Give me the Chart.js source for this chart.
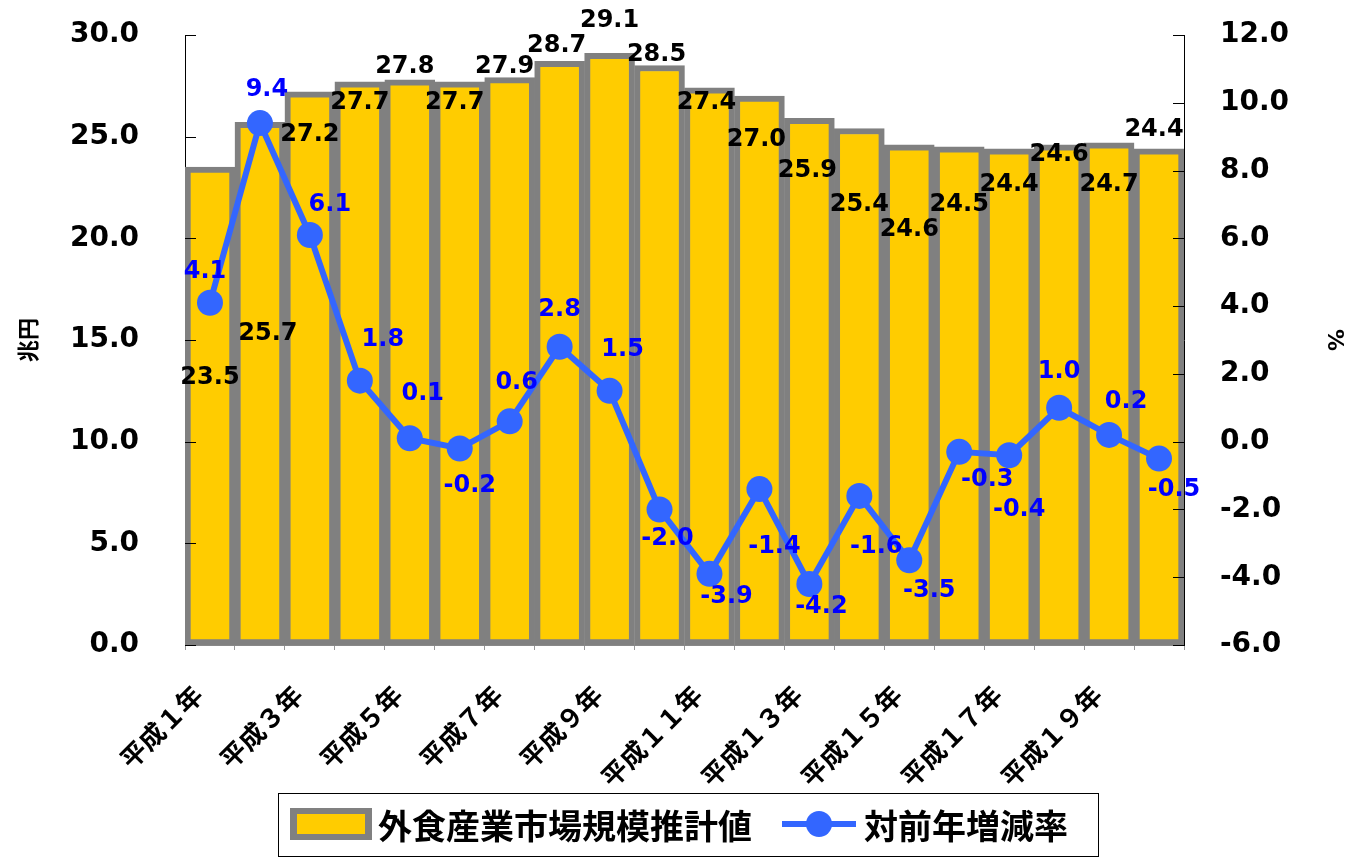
<!DOCTYPE html>
<html>
<head>
<meta charset="utf-8">
<script src="https://cdn.jsdelivr.net/npm/chart.js@4.4.0/dist/chart.umd.min.js"></script>
<style>
html, body { margin: 0; padding: 0; background: #fff; }
</style>
</head>
<body>
<canvas id="c" width="1351" height="858"></canvas>
<script>
// data
const years = ['平成１年', '平成２年', '平成３年', '平成４年', '平成５年', '平成６年', '平成７年', '平成８年', '平成９年', '平成１０年',
    '平成１１年', '平成１２年', '平成１３年', '平成１４年', '平成１５年', '平成１６年', '平成１７年', '平成１８年', '平成１９年', '平成２０年'];
const marketSize = [23.5, 25.7, 27.2, 27.7, 27.8, 27.7, 27.9, 28.7, 29.1, 28.5, 27.4, 27.0, 25.9, 25.4, 24.6, 24.5, 24.4, 24.6, 24.7, 24.4];
const growthRate = [4.1, 9.4, 6.1, 1.8, 0.1, -0.2, 0.6, 2.8, 1.5, -2.0, -3.9, -1.4, -4.2, -1.6, -3.5, -0.3, -0.4, 1.0, 0.2, -0.5];

// label offsets (px) from each mark, to copy the original's hand placed labels
const barLabelOffset = [[0, 211], [8, 211], [0, 43], [0, 21], [-5, -13], [-5, 21], [-5, -11], [-3, -16], [0, -33], [-3, -11],
    [-3, 15], [-3, 44], [-2, 52], [0, 76], [0, 85], [0, 58], [0, 36], [0, 10], [0, 42], [-5, -19]];
const lineLabelOffset = [[-5, -31], [7, -33], [20, -30], [23, -41], [13, -45], [10, 37], [7, -39], [0, -37], [13, -41], [8, 29],
    [17, 23], [15, 58], [12, 23], [17, 51], [20, 30], [28, 28], [10, 55], [0, -36], [17, -33], [15, 31]];

const numFont = 'DejaVu Sans';
const jpFont = '"Noto Sans CJK JP"';
const BAR_FILL = '#FFCC00';
const BAR_EDGE = '#808080';
const LINE_COL = '#3366FF';

// data labels
const labelPlugin = {
    id: 'valueLabels',
    afterDatasetsDraw(chart) {
        const ctx = chart.ctx;
        ctx.save();
        ctx.font = 'bold 24px ' + numFont;
        ctx.textAlign = 'center';
        ctx.textBaseline = 'middle';
        chart.getDatasetMeta(1).data.forEach(function (el, i) {
            ctx.fillStyle = '#000';
            ctx.fillText(marketSize[i].toFixed(1), el.x + barLabelOffset[i][0], el.y + barLabelOffset[i][1]);
        });
        chart.getDatasetMeta(0).data.forEach(function (el, i) {
            ctx.fillStyle = '#0000FF';
            ctx.fillText(growthRate[i].toFixed(1), el.x + lineLabelOffset[i][0], el.y + lineLabelOffset[i][1]);
        });
        ctx.restore();
    }
};

// inward tick marks on both value axes
const innerTicks = {
    id: 'innerTicks',
    afterDraw(chart) {
        const ctx = chart.ctx;
        ctx.save();
        ctx.strokeStyle = '#000';
        ctx.lineWidth = 1;
        ['y', 'y1'].forEach(function (id) {
            const s = chart.scales[id];
            const x0 = id === 'y' ? s.right : s.left;
            const dir = id === 'y' ? 1 : -1;
            s.ticks.forEach(function (t) {
                const y = Math.round(s.getPixelForValue(t.value)) + 0.5;
                ctx.beginPath();
                ctx.moveTo(x0, y);
                ctx.lineTo(x0 + dir * 11, y);
                ctx.stroke();
            });
        });
        ctx.restore();
    }
};

// boxed legend under the chart
const boxLegend = {
    id: 'boxLegend',
    afterDraw(chart) {
        const ctx = chart.ctx;
        const ds = chart.data.datasets;
        ctx.save();
        ctx.strokeStyle = '#000';
        ctx.lineWidth = 1;
        ctx.strokeRect(278.5, 793.5, 820, 63);

        ctx.fillStyle = BAR_EDGE;
        ctx.fillRect(290, 808, 82, 32);
        ctx.fillStyle = BAR_FILL;
        ctx.fillRect(297, 814, 68, 20);

        ctx.font = 'bold 34px ' + jpFont;
        ctx.textBaseline = 'middle';
        ctx.textAlign = 'left';
        ctx.fillStyle = '#000';
        ctx.fillText(ds[1].label, 378, 826);

        ctx.strokeStyle = LINE_COL;
        ctx.lineWidth = 6;
        ctx.beginPath();
        ctx.moveTo(782, 824);
        ctx.lineTo(856, 824);
        ctx.stroke();
        ctx.fillStyle = LINE_COL;
        ctx.beginPath();
        ctx.arc(819, 824, 13, 0, Math.PI * 2);
        ctx.fill();

        ctx.fillStyle = '#000';
        ctx.fillText(ds[0].label, 864, 826);
        ctx.restore();
    }
};

function fixY(width) {
    return function (s) {
        s.width = width;
        s.paddingTop = 0;
        s.paddingBottom = 0;
    };
}

new Chart(document.getElementById('c'), {
    type: 'bar',
    data: {
        labels: years,
        datasets: [{
            type: 'line',
            label: '対前年増減率',
            data: growthRate,
            yAxisID: 'y1',
            borderColor: LINE_COL,
            backgroundColor: LINE_COL,
            borderWidth: 6,
            pointRadius: 13,
            pointHoverRadius: 13,
            pointBorderWidth: 0,
            tension: 0,
            order: 0
        }, {
            type: 'bar',
            label: '外食産業市場規模推計値',
            data: marketSize,
            yAxisID: 'y',
            backgroundColor: BAR_FILL,
            borderColor: BAR_EDGE,
            borderWidth: 6,
            borderSkipped: false,
            barPercentage: 1,
            categoryPercentage: 1,
            order: 1
        }]
    },
    options: {
        responsive: false,
        animation: false,
        layout: { padding: { top: 35, left: 0, right: 0, bottom: 0 } },
        plugins: {
            legend: { display: false },
            tooltip: { enabled: false }
        },
        scales: {
            x: {
                offset: true,
                grid: { display: true, drawOnChartArea: false, tickLength: 5, color: '#999', offset: true },
                border: { color: '#888' },
                ticks: {
                    autoSkip: false,
                    maxRotation: 45,
                    minRotation: 45,
                    padding: 29,
                    labelOffset: -12,
                    color: '#000',
                    font: { family: jpFont, size: 26, weight: 'bold' },
                    callback: function (v, i) { return i % 2 === 0 ? this.getLabelForValue(v) : ''; }
                },
                afterFit: function (s) { s.height = 213; s.paddingLeft = 0; s.paddingRight = 0; }
            },
            y: {
                position: 'left',
                min: 0,
                max: 30,
                grid: { display: false },
                border: { display: true, color: '#000' },
                ticks: {
                    stepSize: 5,
                    padding: 38,
                    color: '#000',
                    font: { family: numFont, size: 28, weight: 'bold' },
                    callback: function (v) { return v.toFixed(1); }
                },
                title: {
                    display: true,
                    text: '兆円',
                    color: '#000',
                    padding: { top: 14, bottom: 0 },
                    font: { family: jpFont, size: 22, weight: 'bold' }
                },
                afterFit: fixY(185)
            },
            y1: {
                position: 'right',
                min: -6,
                max: 12,
                grid: { display: false },
                border: { display: true, color: '#000' },
                ticks: {
                    stepSize: 2,
                    padding: 28,
                    color: '#000',
                    font: { family: numFont, size: 28, weight: 'bold' },
                    callback: function (v) { return v.toFixed(1); }
                },
                title: {
                    display: true,
                    text: '%',
                    color: '#000',
                    padding: { top: 4, bottom: 0 },
                    font: { family: numFont, size: 22, weight: 'bold' }
                },
                afterFit: fixY(167)
            }
        }
    },
    plugins: [labelPlugin, innerTicks, boxLegend]
});
</script>
</body>
</html>
